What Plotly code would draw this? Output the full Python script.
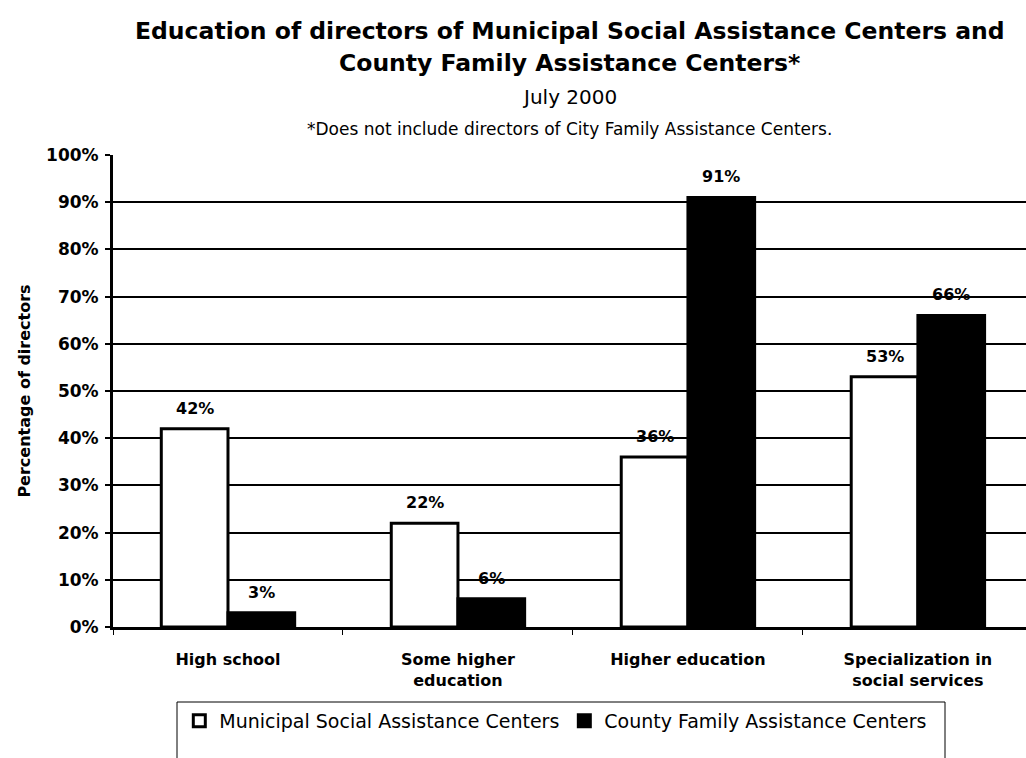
import plotly.graph_objects as go

# Education levels (x categories) and share of directors per centre type (%)
categories = ["High school", "Some higher education", "Higher education",
              "Specialization in social services"]
tick_labels = ["High school", "Some higher<br>education", "Higher education",
               "Specialization in<br>social services"]
municipal = [42, 22, 36, 53]
county = [3, 6, 91, 66]
y_ticks = [0, 10, 20, 30, 40, 50, 60, 70, 80, 90, 100]
y_tick_labels = [f"{v}%" for v in y_ticks]

FONT = "DejaVu Sans, Verdana, sans-serif"
BAR_W = 0.29

fig = go.Figure()
fig.add_trace(go.Bar(
    name="Municipal Social Assistance Centers",
    x=categories, y=municipal,
    offset=-BAR_W, width=BAR_W,
    marker=dict(color="white", line=dict(color="black", width=3)),
))
fig.add_trace(go.Bar(
    name="County Family Assistance Centers",
    x=categories, y=county,
    offset=0, width=BAR_W,
    marker=dict(color="black", line=dict(color="black", width=3)),
))

# Value labels above each bar
for i, (m, c) in enumerate(zip(municipal, county)):
    for val, dx in ((m, -BAR_W / 2), (c, BAR_W / 2)):
        fig.add_annotation(
            x=i + dx, y=val, text=f"<b>{val}%</b>", showarrow=False,
            yanchor="bottom", yshift=9,
            font=dict(family=FONT, size=16, color="black"),
        )

# Title block
H = 758
TOP, BOTTOM = 155, 627
titles = [
    ("<b>Education of directors of Municipal Social Assistance Centers and</b>", 31, 23.5),
    ("<b>County Family Assistance Centers*</b>", 63, 23.5),
    ("July 2000", 97, 20),
    ("*Does not include directors of City Family Assistance Centers.", 129, 17),
]
for text, ypx, size in titles:
    fig.add_annotation(
        xref="paper", yref="paper", x=0.5,
        y=(BOTTOM - ypx) / (BOTTOM - TOP), yanchor="middle",
        text=text, showarrow=False,
        font=dict(family=FONT, size=size, color="black"),
    )

# Legend frame
fig.add_shape(
    type="rect", xref="paper", yref="paper",
    x0=(177 - 113) / 913, x1=(945 - 113) / 913,
    y0=-0.5, y1=(BOTTOM - 702) / (BOTTOM - TOP),
    line=dict(color="black", width=1), fillcolor="rgba(0,0,0,0)",
)

fig.update_layout(
    width=1026, height=H,
    margin=dict(l=113, r=0, t=TOP, b=H - BOTTOM),
    paper_bgcolor="white", plot_bgcolor="white",
    font=dict(family=FONT, color="black"),
    showlegend=True,
    legend=dict(
        orientation="h", x=0.485, xanchor="center",
        y=(BOTTOM - 702) / (BOTTOM - TOP), yanchor="top",
        font=dict(family=FONT, size=19, color="black"),
        bgcolor="rgba(0,0,0,0)", itemwidth=30,
    ),
    xaxis=dict(
        type="category", range=[-0.5, 3.47],
        tickmode="array", tickvals=categories, ticktext=tick_labels,
        tickfont=dict(family=FONT, size=16, color="black", weight="bold"),
        showline=True, linecolor="black", linewidth=3,
        tickson="boundaries", ticks="outside", ticklen=5,
        tickcolor="black", tickwidth=1,
        showgrid=False, zeroline=False,
        ticklabelstandoff=16,
    ),
    yaxis=dict(
        range=[0, 100], tickmode="array",
        tickvals=y_ticks, ticktext=y_tick_labels,
        tickfont=dict(family=FONT, size=17, color="black", weight="bold"),
        showline=True, linecolor="black", linewidth=3,
        showgrid=True, gridcolor="black", gridwidth=2,
        ticks="outside", ticklen=5, tickcolor="black", tickwidth=2,
        zeroline=False, ticklabelstandoff=3,
        title=dict(text="Percentage of directors",
                   font=dict(family=FONT, size=16, color="black", weight="bold"),
                   standoff=12),
    ),
)

fig.write_html("out.html")
